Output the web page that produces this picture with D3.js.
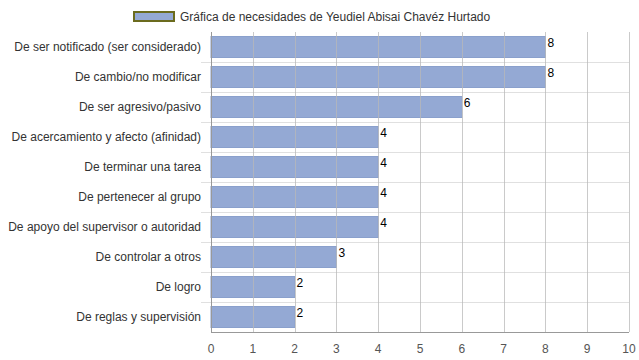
<!DOCTYPE html>
<html><head><meta charset="utf-8">
<script src="https://cdn.jsdelivr.net/npm/d3@7"></script>
<style>body{margin:0;background:#fff;}svg{display:block;font-family:"Liberation Sans",Arial,Helvetica,sans-serif;}</style>
</head><body><svg id="c" width="639" height="360"></svg>
<script>
const categories = ["De ser notificado (ser considerado)","De cambio/no modificar","De ser agresivo/pasivo","De acercamiento y afecto (afinidad)","De terminar una tarea","De pertenecer al grupo","De apoyo del supervisor o autoridad","De controlar a otros","De logro","De reglas y supervisión"];
const values = [8,8,6,4,4,4,4,3,2,2];
const ticks = [0,1,2,3,4,5,6,7,8,9,10];
const seriesName = "Gráfica de necesidades de Yeudiel Abisai Chavéz Hurtado";

const svg = d3.select("#c");
const x = d3.scaleLinear().domain([0,10]).range([211,629]);
const y = d3.scaleBand().domain(categories).range([32,332]).paddingInner(0.3).paddingOuter(0.15);
const step = y.step();

// horizontal separators
const seps = d3.range(categories.length).map(i => 32 + i*step);
svg.append("g").selectAll("line").data(seps.slice(1)).join("line")
  .attr("x1",201).attr("x2",629).attr("y1",d=>Math.round(d)+0.5).attr("y2",d=>Math.round(d)+0.5)
  .attr("stroke","#e0e0e0").attr("stroke-width",1);

// bars
svg.append("g").selectAll("rect").data(values).join("rect")
  .attr("x",x(0)).attr("y",(d,i)=>y(categories[i]))
  .attr("width",d=>x(d)-x(0)).attr("height",y.bandwidth())
  .attr("fill","#94a9d4").attr("stroke","#8aa0cc").attr("stroke-width",1);

// vertical grid (drawn over bars, semi-transparent)
svg.append("g").selectAll("line").data(ticks).join("line")
  .attr("x1",d=>Math.round(x(d))+0.5).attr("x2",d=>Math.round(x(d))+0.5)
  .attr("y1",32).attr("y2",332)
  .attr("stroke",d=>d===0?"#999":"#b8b8b8").attr("stroke-opacity",d=>d===0?1:0.75).attr("stroke-width",1);

// bottom axis line
svg.append("line").attr("x1",211).attr("x2",629).attr("y1",332.5).attr("y2",332.5).attr("stroke","#999");

// x tick labels
svg.append("g").selectAll("text").data(ticks).join("text")
  .attr("x",d=>x(d)).attr("y",353).attr("text-anchor","middle")
  .attr("font-size",12).attr("fill","#555").text(d=>d);

// category labels
svg.append("g").selectAll("text").data(categories).join("text")
  .attr("x",201).attr("y",d=>y(d)+y.bandwidth()/2+4).attr("text-anchor","end")
  .attr("font-size",12).attr("fill","#333").text(d=>d);

// value labels
svg.append("g").selectAll("text").data(values).join("text")
  .attr("x",d=>x(d)+2).attr("y",(d,i)=>y(categories[i])+10)
  .attr("font-size",12).attr("fill","#000").text(d=>d);

// legend
svg.append("rect").attr("x",134).attr("y",12).attr("width",40).attr("height",9)
  .attr("fill","#94a9d4").attr("stroke","#6b6b1e").attr("stroke-width",2);
svg.append("text").attr("x",180).attr("y",21).attr("font-size",12).attr("fill","#333").text(seriesName);
</script></body></html>
